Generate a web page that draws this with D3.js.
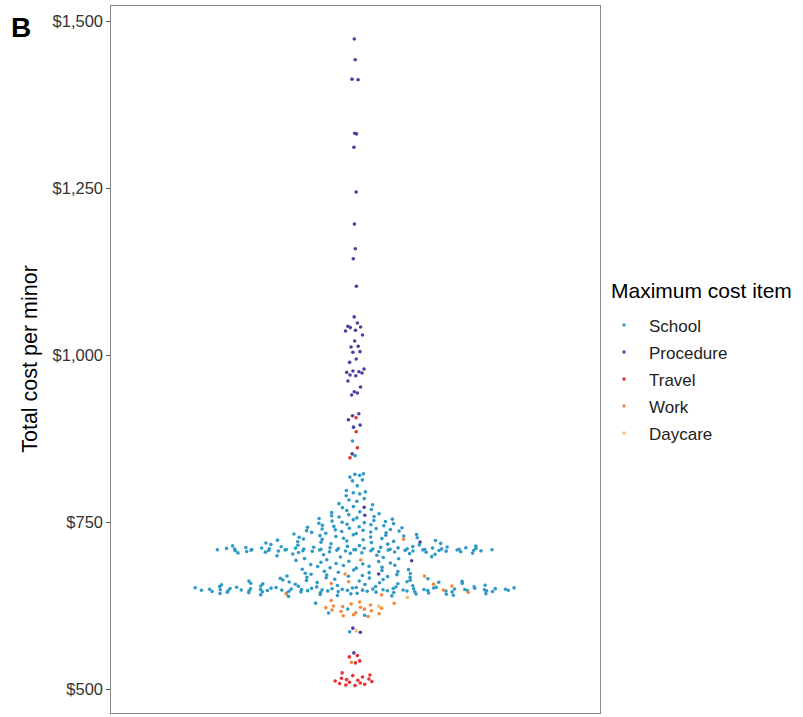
<!DOCTYPE html>
<html>
<head>
<meta charset="utf-8">
<script src="https://cdn.jsdelivr.net/npm/d3@7"></script>
<style>
  body { margin: 0; background: #fff; }
  text { font-family: "Liberation Sans", Arial, Helvetica, sans-serif; }
</style>
</head>
<body>
<svg id="chart" width="803" height="717"></svg>
<script>
// legend order / categories
const categories = ["School", "Procedure", "Travel", "Work", "Daycare"];
const catColors = ["#2f9ac7", "#4f3ea0", "#e4312f", "#f4883b", "#fcbd68"];

// total cost per minor ($), one value per minor, grouped by maximum cost item
const school = [
  871.2, 849.3,
  822.1, 821.3, 819.8, 817.2, 813.0, 811.5, 804.1, 797.1,
  795.0, 793.6, 792.0, 789.2, 785.0, 782.9, 781.1,
  777.4, 775.8, 773.1, 771.5, 768.6, 767.2, 765.3, 764.1, 762.4, 761.0, 759.3, 758.2,
  757.4, 756.1, 755.3, 754.2, 753.5, 752.1, 751.3, 750.6, 749.6, 749.0, 748.2, 747.5,
  746.6, 745.8, 745.1, 744.3, 743.4, 742.8, 742.1, 741.3, 740.7, 740.1, 739.4, 738.8, 738.2, 737.6,
  737.0, 736.3, 735.8, 735.1, 734.4, 733.9, 733.1, 732.6, 732.0, 731.3, 730.7, 730.1, 729.5, 728.9, 728.2, 727.6,
  727.0, 726.4, 725.7, 725.1, 724.6, 723.9, 723.3, 722.8, 722.2, 721.5, 720.9, 720.3, 719.7, 719.1, 718.5, 717.9, 717.4, 716.8, 716.2, 715.7,
  // $710 band
  715.1, 714.6, 714.2, 713.8, 713.4, 713.1, 712.8, 712.5, 712.2, 711.9, 711.7, 711.4, 711.3, 711.2, 711.0, 710.9,
  710.8, 710.6, 710.4, 710.2, 710.1, 709.9, 709.8, 709.7, 709.6, 709.5, 709.3, 709.2, 709.1, 709.0, 708.9, 708.8,
  708.7, 708.6, 708.5, 708.45, 708.4, 708.3, 708.2, 708.1, 708.0, 707.9, 707.8, 707.7, 707.6, 707.5, 707.4, 707.2,
  707.1, 707.0, 706.9, 706.8, 706.6, 706.5, 706.4, 706.3, 706.1, 705.9, 705.7, 705.5, 705.3, 705.1, 704.8, 704.6,
  704.3, 704.0, 703.7, 703.4, 703.0, 702.6, 702.1, 701.6,
  // between the bands
  700.9, 700.1, 699.3, 698.1, 697.6, 696.8, 695.2, 694.9, 693.4, 692.5, 691.2, 690.8, 689.6, 688.5, 687.9, 687.0,
  686.2, 685.1, 684.8, 683.6, 683.4, 682.1, 681.3, 680.9, 679.3, 678.6, 678.2, 677.3, 676.1, 675.8, 674.8, 674.1,
  673.2, 672.9, 671.8, 671.1, 670.6, 669.9, 669.1, 668.8, 668.2, 667.3, 667.1, 666.4, 666.0, 665.6, 664.9, 664.2,
  663.9, 663.1, 662.9, 662.4, 661.7, 661.5, 661.0, 660.4, 660.1, 659.8, 659.2, 658.9, 658.3, 658.1, 657.6, 657.3,
  // $650 band
  656.8, 656.3, 655.9, 655.2, 654.8, 654.5, 654.1, 653.8, 653.5, 653.3, 653.0, 652.8, 652.6, 652.3, 652.1, 651.9,
  651.8, 651.6, 651.4, 651.2, 651.1, 650.9, 650.8, 650.6, 650.5, 650.3, 650.2, 650.1, 649.9, 649.8, 649.7, 649.6,
  649.5, 649.3, 649.2, 649.1, 649.0, 648.9, 648.8, 648.7, 648.6, 648.5, 648.4, 648.3, 648.2, 648.1, 648.0, 647.9,
  647.8, 647.7, 647.6, 647.5, 647.4, 647.3, 647.2, 647.1, 647.0, 646.9, 646.8, 646.7, 646.6, 646.5, 646.3, 646.2,
  646.0, 645.9, 645.7, 645.6, 645.4, 645.3, 645.1, 644.9, 644.7, 644.5, 644.3, 644.1, 643.8, 643.6, 643.3, 643.0,
  642.7, 642.4, 642.1, 641.7, 641.3, 640.9, 640.4, 639.9, 639.3, 638.6,
  628.5, 619.6, 613.8, 610.2, 585.6
];
const procedure = [
  1473, 1442, 1413, 1412, 1332, 1331, 1311, 1244, 1196, 1159, 1144, 1103,
  1057, 1048, 1043, 1042, 1041, 1037, 1036, 1030, 1021, 1013, 1012, 1005, 1004,
  994, 989, 979, 976, 975, 974, 973, 970, 969, 961, 952, 945, 943, 940,
  912, 909, 903, 895, 892, 852,
  772, 760, 720, 692, 672, 591, 585, 554
];
const travel = [
  906, 885, 861, 846,
  550, 548, 542, 539,
  524, 521, 520, 518, 516, 515, 514, 513, 512, 511, 510, 509, 508, 507, 506, 505
];
const work = [
  724, 693, 672, 669, 660.5, 657.8, 656.9, 654, 648, 644.6, 642, 641,
  632.5, 630.1, 628.4, 627.2, 625.6, 624.1, 623.3, 622.4, 621.8, 620.9,
  619.5, 618.2, 617.1, 615.9, 614.2, 612.6, 611.0, 609.5, 608.3,
  540
];
const daycare = [637, 624, 587];

const yTicks = [500, 750, 1000, 1250, 1500];

const seriesValues = [school, procedure, travel, work, daycare];

const width = 803, height = 717;
const panel = { left: 110, top: 5, right: 600, bottom: 713 };
const dotR = 1.8;
const qWidth = 0.4, qAdjust = 0.5;   // geom_quasirandom defaults

const svg = d3.select("#chart");
svg.append("rect").attr("width", width).attr("height", height).attr("fill", "#fff");

const y = d3.scaleLinear().domain([464, 1524]).range([panel.bottom, panel.top]);
// one discrete position, expanded 0.6 on each side like ggplot
const x = d3.scaleLinear().domain([0.4, 1.6]).range([panel.left, panel.right]);
const color = d3.scaleOrdinal().domain(categories).range(catColors);

// flatten data
let points = [];
seriesValues.forEach(function(vals, k){
  vals.forEach(function(v){
    points.push({ cat: categories[k], value: v });
  });
});

// quasirandom offsets (kernel density x van der Corput)
function vanDerCorput(i){
  let q = 0, bk = 0.5;
  while (i > 0){ q += (i % 2) * bk; i = Math.floor(i / 2); bk /= 2; }
  return q;
}
function quasirandom(pts){
  let vals = pts.map(function(p){ return p.value; });
  let n = vals.length;
  let sorted = vals.slice().sort(d3.ascending);
  let sd = d3.deviation(vals);
  let iqr = d3.quantileSorted(sorted, 0.75) - d3.quantileSorted(sorted, 0.25);
  let bw = 0.9 * Math.min(sd, iqr / 1.34) * Math.pow(n, -0.2) * qAdjust;
  let lo = sorted[0] - 3 * bw, hi = sorted[n - 1] + 3 * bw;
  let grid = d3.range(512).map(function(i){ return lo + (hi - lo) * i / 511; });
  let dens = grid.map(function(g){
    return d3.sum(vals, function(v){ let z = (g - v) / bw; return Math.exp(-0.5 * z * z); });
  });
  let maxD = d3.max(dens);
  let densAt = d3.scaleLinear().domain(grid).range(dens.map(function(d){ return d / maxD; }));
  let order = d3.range(n).sort(function(a, b){ return vals[a] - vals[b] || a - b; });
  order.forEach(function(idx, r){
    let off = (vanDerCorput(r + 1) - 0.5) * 2 * densAt(vals[idx]);
    pts[idx].off = off * qWidth;
  });
}
quasirandom(points);

// panel border
svg.append("rect")
  .attr("x", panel.left + 0.5).attr("y", panel.top + 0.5)
  .attr("width", panel.right - panel.left).attr("height", panel.bottom - panel.top)
  .attr("fill", "none").attr("stroke", "#8a8a8a").attr("stroke-width", 1);

// points
svg.append("g")
  .selectAll("circle")
  .data(points)
  .enter()
  .append("circle")
  .attr("cx", function(d){ return x(1 + d.off); })
  .attr("cy", function(d){ return y(d.value); })
  .attr("r", dotR)
  .attr("fill", function(d){ return color(d.cat); });

// y axis
const yAxis = svg.append("g")
  .attr("transform", "translate(" + panel.left + ",0)")
  .call(d3.axisLeft(y).tickValues(yTicks).tickSize(4).tickPadding(3)
    .tickFormat(function(d){ return "$" + d3.format(",")(d); }));
yAxis.select(".domain").remove();
yAxis.selectAll(".tick line").attr("stroke", "#555");
yAxis.selectAll(".tick text")
  .attr("fill", "#333")
  .style("font-size", "16.5px");

// axis title
svg.append("text")
  .attr("transform", "translate(37," + ((panel.top + panel.bottom) / 2) + ") rotate(-90)")
  .attr("text-anchor", "middle")
  .style("font-size", "21.5px")
  .attr("fill", "#000")
  .text("Total cost per minor");

// panel tag
svg.append("text")
  .attr("x", 11).attr("y", 37)
  .style("font-size", "28px")
  .style("font-weight", "bold")
  .attr("fill", "#000")
  .text("B");

// legend
const legend = svg.append("g").attr("transform", "translate(611,0)");
legend.append("text")
  .attr("x", 0).attr("y", 298)
  .style("font-size", "21px")
  .attr("fill", "#000")
  .text("Maximum cost item");

const items = legend.selectAll(".item")
  .data(categories)
  .enter()
  .append("g")
  .attr("class", "item")
  .attr("transform", function(d, i){ return "translate(0," + (325 + i * 27) + ")"; });
items.append("circle")
  .attr("cx", 13).attr("cy", 0).attr("r", 1.7)
  .attr("fill", function(d){ return color(d); });
items.append("text")
  .attr("x", 38).attr("y", 6.5)
  .style("font-size", "17px")
  .attr("fill", "#222")
  .text(function(d){ return d; });
</script>
</body>
</html>
